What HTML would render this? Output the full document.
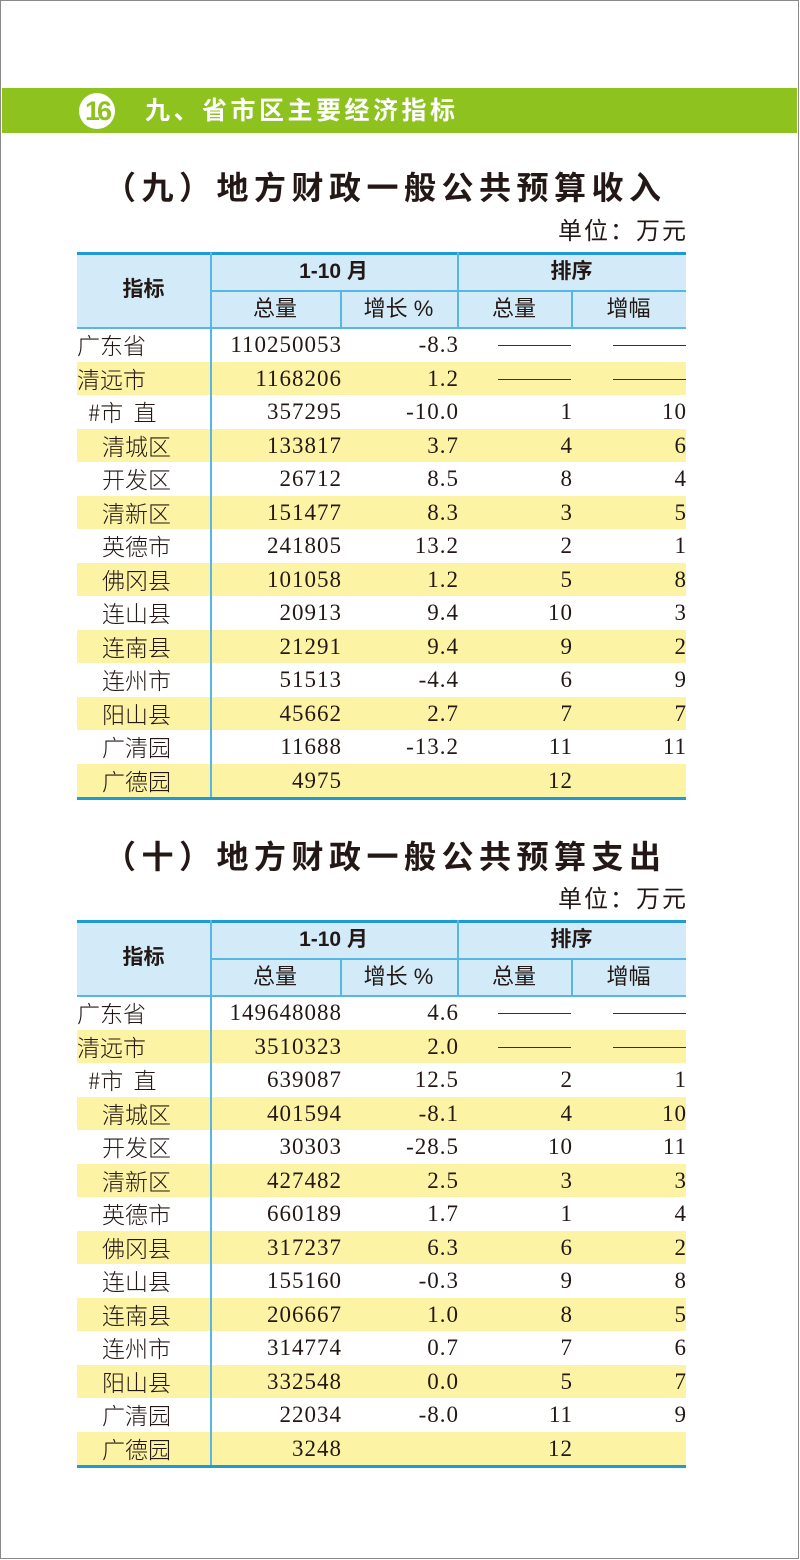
<!DOCTYPE html>
<html><head><meta charset="utf-8"><style>
*{margin:0;padding:0;box-sizing:border-box}
body{width:800px;height:1560px;position:relative;background:#fff;overflow:hidden;font-family:"Liberation Sans","Noto Sans CJK SC",sans-serif;color:#231815}
.frame{position:absolute;left:0;top:0;width:799px;height:1559px;border:1.5px solid #8a8a8a}
.band{position:absolute;left:2px;top:88px;width:795px;height:45px;background:#8dc21f}
.circ{position:absolute;left:79px;top:93px;width:36px;height:36px;border-radius:50%;background:#fff;color:#8dc21f;font:bold 27px/36px "Liberation Sans",sans-serif;text-align:center;letter-spacing:-3px}
.bt{position:absolute;left:145px;top:93px;color:#fff;font:bold 25px/36px "Liberation Sans","Noto Sans CJK SC",sans-serif;letter-spacing:3.5px}
.title{position:absolute;left:100px;width:620px;font:bold 32px/40px "Liberation Sans","Noto Sans CJK SC",sans-serif;letter-spacing:5.5px;color:#231815;white-space:nowrap}
.unit{position:absolute;right:114px;font:24px/28px "Liberation Sans","Noto Sans CJK SC",sans-serif;white-space:nowrap;letter-spacing:2px;margin-right:-2px}
.tb{position:absolute;left:77px;width:609px}
.hd{position:absolute;left:0;top:0;width:609px;height:76px;background:#d3ebf8;border-top:3px solid #1e9ad6}
.hl{position:absolute;background:#58b6e4}
.ht{position:absolute;font:bold 21px/38px "Liberation Sans","Noto Sans CJK SC",sans-serif;text-align:center}
.ht2{position:absolute;font:22px/38px "Liberation Sans","Noto Sans CJK SC",sans-serif;text-align:center}
.row{position:absolute;left:0;width:609px;height:33.5px}
.y{background:#fcf4a4}
.row span{position:absolute;top:0;line-height:33.5px;font-size:23px;white-space:pre}
.n{font-family:"Noto Sans CJK SC",sans-serif;font-weight:300}
.v{font-family:"Liberation Serif",serif;text-align:right;letter-spacing:1px;margin-right:-1px}
.row i{position:absolute;top:17px;width:73px;height:1.2px;background:#333}
.bot{position:absolute;left:0;width:609px;height:3px;background:#1e9ad6}
</style></head><body>
<div class="frame"></div>
<div class="band"></div>
<div class="circ">16</div>
<div class="bt">九、省市区主要经济指标</div>

<div class="title" style="top:168px;left:104px">（九）地方财政一般公共预算收入</div>
<div class="unit" style="top:218px">单位：万元</div>

<div class="tb" style="top:252px">
<div class="hd"></div>
<div class="hl" style="left:380px;top:0;width:1.5px;height:76px"></div>
<div class="hl" style="left:133px;top:38px;width:476px;height:1.5px"></div>
<div class="hl" style="left:263px;top:38px;width:1.5px;height:38px"></div>
<div class="hl" style="left:494px;top:38px;width:1.5px;height:38px"></div>
<div class="hl" style="left:0;top:75px;width:609px;height:1.5px"></div>
<div class="ht" style="left:0;width:133px;top:19px">指标</div>
<div class="ht" style="left:133px;width:247px;top:1px">1-10 月</div>
<div class="ht" style="left:380px;width:229px;top:1px">排序</div>
<div class="ht2" style="left:133px;width:130px;top:38px">总量</div>
<div class="ht2" style="left:263px;width:117px;top:38px">增长 %</div>
<div class="ht2" style="left:380px;width:114px;top:38px">总量</div>
<div class="ht2" style="left:494px;width:115px;top:38px">增幅</div>

<div class="row" style="top:76px"><span class="n" style="left:0">广东省</span><span class="v" style="right:345px">110250053</span><span class="v" style="right:228px">-8.3</span><i style="right:115px"></i><i style="right:0"></i></div>
<div class="row y" style="top:109.5px"><span class="n" style="left:0">清远市</span><span class="v" style="right:345px">1168206</span><span class="v" style="right:228px">1.2</span><i style="right:115px"></i><i style="right:0"></i></div>
<div class="row" style="top:143px"><span class="n" style="left:11px">#市  直</span><span class="v" style="right:345px">357295</span><span class="v" style="right:228px">-10.0</span><span class="v" style="right:114px">1</span><span class="v" style="right:0">10</span></div>
<div class="row y" style="top:176.5px"><span class="n" style="left:25px">清城区</span><span class="v" style="right:345px">133817</span><span class="v" style="right:228px">3.7</span><span class="v" style="right:114px">4</span><span class="v" style="right:0">6</span></div>
<div class="row" style="top:210px"><span class="n" style="left:25px">开发区</span><span class="v" style="right:345px">26712</span><span class="v" style="right:228px">8.5</span><span class="v" style="right:114px">8</span><span class="v" style="right:0">4</span></div>
<div class="row y" style="top:243.5px"><span class="n" style="left:25px">清新区</span><span class="v" style="right:345px">151477</span><span class="v" style="right:228px">8.3</span><span class="v" style="right:114px">3</span><span class="v" style="right:0">5</span></div>
<div class="row" style="top:277px"><span class="n" style="left:25px">英德市</span><span class="v" style="right:345px">241805</span><span class="v" style="right:228px">13.2</span><span class="v" style="right:114px">2</span><span class="v" style="right:0">1</span></div>
<div class="row y" style="top:310.5px"><span class="n" style="left:25px">佛冈县</span><span class="v" style="right:345px">101058</span><span class="v" style="right:228px">1.2</span><span class="v" style="right:114px">5</span><span class="v" style="right:0">8</span></div>
<div class="row" style="top:344px"><span class="n" style="left:25px">连山县</span><span class="v" style="right:345px">20913</span><span class="v" style="right:228px">9.4</span><span class="v" style="right:114px">10</span><span class="v" style="right:0">3</span></div>
<div class="row y" style="top:377.5px"><span class="n" style="left:25px">连南县</span><span class="v" style="right:345px">21291</span><span class="v" style="right:228px">9.4</span><span class="v" style="right:114px">9</span><span class="v" style="right:0">2</span></div>
<div class="row" style="top:411px"><span class="n" style="left:25px">连州市</span><span class="v" style="right:345px">51513</span><span class="v" style="right:228px">-4.4</span><span class="v" style="right:114px">6</span><span class="v" style="right:0">9</span></div>
<div class="row y" style="top:444.5px"><span class="n" style="left:25px">阳山县</span><span class="v" style="right:345px">45662</span><span class="v" style="right:228px">2.7</span><span class="v" style="right:114px">7</span><span class="v" style="right:0">7</span></div>
<div class="row" style="top:478px"><span class="n" style="left:25px">广清园</span><span class="v" style="right:345px">11688</span><span class="v" style="right:228px">-13.2</span><span class="v" style="right:114px">11</span><span class="v" style="right:0">11</span></div>
<div class="row y" style="top:511.5px"><span class="n" style="left:25px">广德园</span><span class="v" style="right:345px">4975</span><span class="v" style="right:114px">12</span></div>
<div class="hl" style="left:133px;top:0;width:1.5px;height:546px"></div>
<div class="bot" style="top:545px"></div>
</div>

<div class="title" style="top:837px;left:104px">（十）地方财政一般公共预算支出</div>
<div class="unit" style="top:886px">单位：万元</div>

<div class="tb" style="top:920px">
<div class="hd"></div>
<div class="hl" style="left:380px;top:0;width:1.5px;height:76px"></div>
<div class="hl" style="left:133px;top:38px;width:476px;height:1.5px"></div>
<div class="hl" style="left:263px;top:38px;width:1.5px;height:38px"></div>
<div class="hl" style="left:494px;top:38px;width:1.5px;height:38px"></div>
<div class="hl" style="left:0;top:75px;width:609px;height:1.5px"></div>
<div class="ht" style="left:0;width:133px;top:19px">指标</div>
<div class="ht" style="left:133px;width:247px;top:1px">1-10 月</div>
<div class="ht" style="left:380px;width:229px;top:1px">排序</div>
<div class="ht2" style="left:133px;width:130px;top:38px">总量</div>
<div class="ht2" style="left:263px;width:117px;top:38px">增长 %</div>
<div class="ht2" style="left:380px;width:114px;top:38px">总量</div>
<div class="ht2" style="left:494px;width:115px;top:38px">增幅</div>

<div class="row" style="top:76px"><span class="n" style="left:0">广东省</span><span class="v" style="right:345px">149648088</span><span class="v" style="right:228px">4.6</span><i style="right:115px"></i><i style="right:0"></i></div>
<div class="row y" style="top:109.5px"><span class="n" style="left:0">清远市</span><span class="v" style="right:345px">3510323</span><span class="v" style="right:228px">2.0</span><i style="right:115px"></i><i style="right:0"></i></div>
<div class="row" style="top:143px"><span class="n" style="left:11px">#市  直</span><span class="v" style="right:345px">639087</span><span class="v" style="right:228px">12.5</span><span class="v" style="right:114px">2</span><span class="v" style="right:0">1</span></div>
<div class="row y" style="top:176.5px"><span class="n" style="left:25px">清城区</span><span class="v" style="right:345px">401594</span><span class="v" style="right:228px">-8.1</span><span class="v" style="right:114px">4</span><span class="v" style="right:0">10</span></div>
<div class="row" style="top:210px"><span class="n" style="left:25px">开发区</span><span class="v" style="right:345px">30303</span><span class="v" style="right:228px">-28.5</span><span class="v" style="right:114px">10</span><span class="v" style="right:0">11</span></div>
<div class="row y" style="top:243.5px"><span class="n" style="left:25px">清新区</span><span class="v" style="right:345px">427482</span><span class="v" style="right:228px">2.5</span><span class="v" style="right:114px">3</span><span class="v" style="right:0">3</span></div>
<div class="row" style="top:277px"><span class="n" style="left:25px">英德市</span><span class="v" style="right:345px">660189</span><span class="v" style="right:228px">1.7</span><span class="v" style="right:114px">1</span><span class="v" style="right:0">4</span></div>
<div class="row y" style="top:310.5px"><span class="n" style="left:25px">佛冈县</span><span class="v" style="right:345px">317237</span><span class="v" style="right:228px">6.3</span><span class="v" style="right:114px">6</span><span class="v" style="right:0">2</span></div>
<div class="row" style="top:344px"><span class="n" style="left:25px">连山县</span><span class="v" style="right:345px">155160</span><span class="v" style="right:228px">-0.3</span><span class="v" style="right:114px">9</span><span class="v" style="right:0">8</span></div>
<div class="row y" style="top:377.5px"><span class="n" style="left:25px">连南县</span><span class="v" style="right:345px">206667</span><span class="v" style="right:228px">1.0</span><span class="v" style="right:114px">8</span><span class="v" style="right:0">5</span></div>
<div class="row" style="top:411px"><span class="n" style="left:25px">连州市</span><span class="v" style="right:345px">314774</span><span class="v" style="right:228px">0.7</span><span class="v" style="right:114px">7</span><span class="v" style="right:0">6</span></div>
<div class="row y" style="top:444.5px"><span class="n" style="left:25px">阳山县</span><span class="v" style="right:345px">332548</span><span class="v" style="right:228px">0.0</span><span class="v" style="right:114px">5</span><span class="v" style="right:0">7</span></div>
<div class="row" style="top:478px"><span class="n" style="left:25px">广清园</span><span class="v" style="right:345px">22034</span><span class="v" style="right:228px">-8.0</span><span class="v" style="right:114px">11</span><span class="v" style="right:0">9</span></div>
<div class="row y" style="top:511.5px"><span class="n" style="left:25px">广德园</span><span class="v" style="right:345px">3248</span><span class="v" style="right:114px">12</span></div>
<div class="hl" style="left:133px;top:0;width:1.5px;height:546px"></div>
<div class="bot" style="top:545px"></div>
</div>
</body></html>
